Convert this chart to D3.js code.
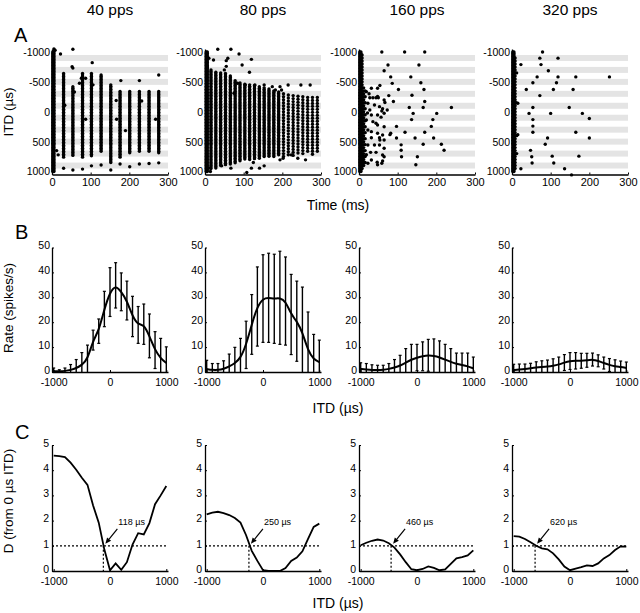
<!DOCTYPE html>
<html><head><meta charset="utf-8">
<script src="https://cdn.jsdelivr.net/npm/d3@7"></script>
<style>body{margin:0;background:#fff} text{font-family:"Liberation Sans",Arial,Helvetica,sans-serif;fill:#000}</style>
</head><body><svg id="c" width="640" height="613"></svg>
<script>
// ---------------- data ----------------
const pulseRates = ["40 pps", "80 pps", "160 pps", "320 pps"];
const panelLetters = ["A", "B", "C"];
const itdGrid = [-1000,-900,-800,-700,-600,-500,-400,-300,-200,-100,0,100,200,300,400,500,600,700,800,900,1000];
const rasterTicksX = [0, 100, 200, 300];
const rasterTicksY = [-1000, -500, 0, 500, 1000];
const rateTicks = [0, 10, 20, 30, 40, 50];
const dTicks = [0, 1, 2, 3, 4, 5];
const itdTicks = [-1000, 0, 1000];
const shadedITDs = [-900, -700, -500, -300, -100, 100, 300, 500, 700, 900];

// Raster: dense runs of spikes [time ms, ITD from, ITD to, ITD spacing between trials]
const runs40 = [[2,-1000,1000,25],[5,-1000,1000,25],[30,-640,780,25],[54,-420,750,25],[79,-640,780,25],
  [102,-640,750,25],[127,-615,665,25],[152,-450,850,25],[176,-340,760,25],[201,-340,690,25],
  [226,-340,680,25],[251,-340,665,25],[276,-340,690,25]];
const spikes40 = [[22,-967],[54,-1045],[104,-822],[52,-755],[54,-730],[71,-476],[87,-560],[76,-560],[87,125],[16,721],
  [167,125],[190,315],[232,-181],[268,125],[166,-187],[178,-521],[226,-521],[276,-616],[8,-1030],[5,-1050],
  [30,945],[54,975],[79,960],[102,905],[127,890],[152,975],[176,875],[201,920],[226,875],[251,865],[276,855],
  [12,650],[58,-330],[33,-110],[106,-450]];
const runs80 = [[3,-1000,1000,25],[6,-1000,1000,25],[15.5,-700,960,25],[28,-660,940,25],[40.5,-650,920,25],
  [53,-640,900,25],[65.5,-600,880,25],[78,-520,860,25],[90.5,-480,820,25],[103,-460,800,25],[115.5,-450,800,25],
  [128,-440,790,25],[140.5,-420,780,25],[153,-400,770,25],[165.5,-380,760,25],[178,-350,750,25],[190.5,-330,740,25],
  [203,-300,760,50],[215.5,-280,740,50],[228,-270,760,50],[240.5,-260,720,50],[253,-250,740,50],[265.5,-240,700,50],
  [278,-240,720,50],[290.5,-240,700,50]];
const spikes80 = [[33,-1045],[67,-1045],[88,-967],[10,-894],[22,-866],[55,-855],[59,-894],[96,-783],[120,-877],[115,-660],
  [6,-755],[84,-476],[104,-448],[129,-448],[153,-448],[174,-420],[194,-420],[215,-448],[248,-448],[272,-448],
  [75,-309],[182,-365],[198,-365],[108,1017],[120,944],[141,944],[153,905],[125,850],[194,805],[202,777],
  [240,777],[223,721],[260,805],[67,944],[43,905],[10,944],[14,1000],[55,-760],[50,-700]];
const runs160 = [[2,-1000,1000,25],[5,-1000,1000,25],[8,-950,980,50],[12,-400,900,50],[16,-350,880,100]];
const spikes160 = [[59,-1000],[118,-1000],[170,-1000],[75,-783],[155,-783],[65,-686],[82,-583],[134,-583],[86,-475],
  [160,-486],[54,-440],[102,-372],[168,-372],[77,-270],[137,-275],[48,-258],[89,-172],[67,-155],[170,-172],
  [130,-70],[166,-70],[239,-70],[59,-12],[140,28],[201,28],[191,131],[136,131],[97,245],[187,245],[80,383],
  [119,343],[170,343],[97,440],[145,440],[193,440],[54,474],[109,554],[166,543],[213,543],[109,645],[220,645],
  [65,754],[110,754],[151,754],[59,863],[48,886],[147,886],
  [19,-336],[32,-392],[48,-392],[28,-235],[36,-235],[44,-235],[50,-235],[65,-197],[23,-141],[40,-113],[53,-85],
  [28,-29],[61,-50],[73,-29],[32,54],[48,54],[65,26],[57,90],[19,138],[36,166],[44,193],[48,221],[65,250],
  [23,305],[32,333],[48,360],[61,389],[82,360],[32,434],[53,434],[65,473],[23,557],[40,557],[53,557],[65,612],
  [30,679],[44,679],[61,724],[32,807],[47,846],[61,824],[23,863],[19,720],[26,-300],[22,20]];
const runs320 = [[2,-1000,1000,25],[5,-1000,1000,25],[8,-900,980,50]];
const spikes320 = [[79,-1000],[72,-897],[119,-897],[23,-789],[75,-789],[94,-686],[65,-583],[119,-583],[165,-583],
  [252,-583],[54,-486],[115,-486],[37,-372],[107,-372],[158,-372],[72,-270],[15,-143],[54,-70],[148,-70],
  [44,28],[100,28],[182,28],[200,114],[54,131],[54,240],[54,343],[165,343],[15,383],[92,440],[200,440],
  [86,543],[48,646],[104,743],[173,743],[51,754],[52,857],[108,857],[23,954],[136,954],[154,1057],
  [12,-650],[12,400],[12,700],[11,-150]];

// Rate-ITD curves: mean rate (spikes/s) and error-bar half length at each ITD of itdGrid
const rate40 = [0.3,0.3,0.4,0.8,1.5,2.8,5.0,12.8,16.4,25.3,32.1,34.8,32.2,28.7,22.3,18.9,19.2,14.5,8.8,5.4,3.6];
const err40  = [1.3,0.6,1.2,2.2,3.5,5.0,5.8,4.0,4.9,7.1,9.8,9.1,7.6,7.8,8.1,7.4,8.1,8.8,7.4,8.1,6.5];
const rate80 = [1.2,0.8,0.8,1.2,2.2,3.5,5.5,10.9,19.1,26.3,29.5,29.8,29.4,29.8,28.5,23.1,20.4,16.0,8.5,5.0,4.0];
const err80  = [3.5,2.6,2.6,3.3,5.0,6.4,8.0,9.5,12.0,15.9,17.6,17.9,17.9,18.7,17.7,16.1,16.1,18.1,15.6,10.1,8.8];
const rate160 = [1.2,1.0,0.8,0.8,0.9,1.2,1.8,2.5,3.8,5.0,5.8,6.3,6.7,6.5,5.9,5.0,4.0,3.3,2.8,2.3,1.5];
const err160  = [2.5,2.4,2.1,1.9,1.8,2.2,3.2,4.2,5.6,6.1,5.3,5.8,6.4,6.8,6.6,6.1,5.4,4.3,4.8,5.3,4.5];
const rate320 = [0.8,1.0,1.2,1.5,1.8,2.0,2.2,2.5,3.0,3.8,4.4,4.5,4.5,4.7,5.0,4.5,3.6,2.8,2.3,2.0,1.6];
const err320  = [2.3,2.2,2.0,2.0,2.3,2.5,2.6,2.8,3.0,3.2,3.4,3.3,3.0,2.8,2.6,2.4,2.4,2.6,2.6,2.4,2.4];

// Discriminability D (from 0 us ITD) at each ITD of itdGrid
const dist40 = [4.58,4.56,4.52,4.30,4.02,3.70,3.42,2.60,1.92,0.85,0.03,0.30,0.05,0.35,1.05,1.50,1.45,1.90,2.65,3.00,3.37];
const dist80 = [2.25,2.32,2.35,2.30,2.22,2.10,1.92,1.42,0.80,0.40,0.03,0,0,0,0.12,0.40,0.53,0.78,1.27,1.75,1.88];
const dist160 = [1.02,1.12,1.20,1.25,1.21,1.10,0.93,0.66,0.35,0.07,0.03,0.08,0.18,0.12,0.03,0.06,0.28,0.50,0.55,0.62,0.82];
const dist320 = [1.38,1.36,1.27,1.14,1.00,0.90,0.86,0.70,0.46,0.18,0.03,0.09,0.15,0.22,0.20,0.30,0.50,0.63,0.83,0.98,0.97];
const thresholds = [118, 250, 460, 620];
const thresholdLabels = ["118 \u00b5s", "250 \u00b5s", "460 \u00b5s", "620 \u00b5s"];

// ---------------- drawing ----------------
const svg = d3.select("#c");
const panelX = [52, 205, 359, 512];
const panelW = 116;
const runs = [runs40, runs80, runs160, runs320];
const spikes = [spikes40, spikes80, spikes160, spikes320];
const rates = [rate40, rate80, rate160, rate320];
const errs = [err40, err80, err160, err320];
const dists = [dist40, dist80, dist160, dist320];
const fmt = d => String(d);

function styleAxis(g, fs, yShift) {
  g.selectAll("path.domain").attr("stroke", "#000").attr("stroke-width", 1.3);
  g.selectAll(".tick line").attr("stroke", "#000").attr("stroke-width", 1);
  const t = g.selectAll(".tick text").attr("font-size", fs || 10.5).attr("fill", "#000")
    .style("font-family", '"Liberation Sans",Arial,sans-serif');
  if (yShift) t.attr("y", yShift);
}

// titles
pulseRates.forEach((t, i) => {
  svg.append("text").attr("x", panelX[i] + panelW / 2).attr("y", 14.5)
    .attr("text-anchor", "middle").attr("font-size", 15.5).text(t);
});
// panel letters
[[14, 42], [15, 239], [15, 439]].forEach((p, i) => {
  svg.append("text").attr("x", p[0]).attr("y", p[1]).attr("font-size", 20).text(panelLetters[i]);
});

// ---- Row A ----
pulseRates.forEach((_, i) => {
  const x0 = panelX[i];
  const x = d3.scaleLinear().domain([0, 300]).range([x0, x0 + panelW]);
  const y = d3.scaleLinear().domain([-1050, 1050]).range([49, 174.5]);
  const g = svg.append("g");
  g.selectAll("rect.band").data(shadedITDs).join("rect")
    .attr("x", x(0)).attr("width", x(300) - x(0))
    .attr("y", d => y(d - 50)).attr("height", d => y(d + 50) - y(d - 50))
    .attr("fill", "#e4e4e4");
  const pts = [];
  runs[i].forEach(r => { for (let v = r[1]; v <= r[2]; v += r[3]) pts.push([r[0], v]); });
  spikes[i].forEach(s => pts.push(s));
  g.selectAll("circle").data(pts).join("circle")
    .attr("cx", d => x(d[0])).attr("cy", d => y(d[1])).attr("r", 1.7).attr("fill", "#000");
  const ax = g.append("g").attr("transform", `translate(0,${y(1050)})`)
    .call(d3.axisBottom(x).tickValues(rasterTicksX).tickFormat(fmt).tickSizeInner(-2).tickSizeOuter(0).tickPadding(4));
  styleAxis(ax, 11);
  const ay = g.append("g").attr("transform", `translate(${x0},0)`)
    .call(d3.axisLeft(y).tickValues(rasterTicksY).tickFormat(fmt).tickSizeInner(-2).tickSizeOuter(0).tickPadding(2));
  styleAxis(ay, 10.5);
});

// ---- Row B ----
pulseRates.forEach((_, i) => {
  const x0 = panelX[i];
  const x = d3.scaleLinear().domain([-1030, 1030]).range([x0, x0 + panelW]);
  const y = d3.scaleLinear().domain([0, 50]).range([372, 247.5]);
  const g = svg.append("g");
  const m = rates[i], e = errs[i];
  const bars = itdGrid.map((d, k) => ({ x: d, lo: Math.max(0, m[k] - e[k]), hi: m[k] + e[k] }));
  g.selectAll("line.eb").data(bars).join("line")
    .attr("x1", d => x(d.x)).attr("x2", d => x(d.x)).attr("y1", d => y(d.lo)).attr("y2", d => y(d.hi))
    .attr("stroke", "#000").attr("stroke-width", 1.4);
  g.selectAll("line.capt").data(bars).join("line")
    .attr("x1", d => x(d.x) - 1.5).attr("x2", d => x(d.x) + 1.5).attr("y1", d => y(d.hi)).attr("y2", d => y(d.hi))
    .attr("stroke", "#000").attr("stroke-width", 1.2);
  g.selectAll("line.capb").data(bars.filter(b => b.lo > 0)).join("line")
    .attr("x1", d => x(d.x) - 1.5).attr("x2", d => x(d.x) + 1.5).attr("y1", d => y(d.lo)).attr("y2", d => y(d.lo))
    .attr("stroke", "#000").attr("stroke-width", 1.2);
  g.append("path").datum(itdGrid.map((d, k) => [d, m[k]]))
    .attr("d", d3.line().x(d => x(d[0])).y(d => y(d[1])).curve(d3.curveBasis))
    .attr("fill", "none").attr("stroke", "#000").attr("stroke-width", 2);
  const ax = g.append("g").attr("transform", `translate(0,${y(0)})`)
    .call(d3.axisBottom(x).tickValues(itdTicks).tickFormat(fmt).tickSizeInner(-2).tickSizeOuter(0).tickPadding(6.5));
  styleAxis(ax, 10.5);
  const ay = g.append("g").attr("transform", `translate(${x0},0)`)
    .call(d3.axisLeft(y).tickValues(rateTicks).tickFormat(fmt).tickSizeInner(-2).tickSizeOuter(0).tickPadding(2));
  styleAxis(ay, 10.5, -2);
});

// ---- Row C ----
pulseRates.forEach((_, i) => {
  const x0 = panelX[i];
  const x = d3.scaleLinear().domain([-1030, 1030]).range([x0, x0 + panelW]);
  const y = d3.scaleLinear().domain([0, 5]).range([571, 445]);
  const g = svg.append("g");
  g.append("line").attr("x1", x(-1030)).attr("x2", x(1030)).attr("y1", y(1)).attr("y2", y(1))
    .attr("stroke", "#000").attr("stroke-width", 1.2).attr("stroke-dasharray", "2,2");
  const cx = x(-thresholds[i]), cy = y(1);
  g.append("line").attr("x1", cx).attr("x2", cx).attr("y1", cy).attr("y2", y(0))
    .attr("stroke", "#000").attr("stroke-width", 1.2).attr("stroke-dasharray", "2,2");
  g.append("path").datum(itdGrid.map((d, k) => [d, dists[i][k]]))
    .attr("d", d3.line().x(d => x(d[0])).y(d => y(d[1])))
    .attr("fill", "none").attr("stroke", "#000").attr("stroke-width", 1.8);
  // arrow annotation
  const tx = cx + 14, ty = cy - 17, hx = cx + 2, hy = cy - 2;
  const ang = Math.atan2(hy - ty, hx - tx);
  const L = 6, W = 2.6;
  const bx = hx - L * Math.cos(ang), by = hy - L * Math.sin(ang);
  g.append("line").attr("x1", tx).attr("y1", ty).attr("x2", bx).attr("y2", by)
    .attr("stroke", "#000").attr("stroke-width", 1.2);
  g.append("polygon").attr("points", [
    [hx, hy],
    [bx + W * Math.sin(ang), by - W * Math.cos(ang)],
    [bx - W * Math.sin(ang), by + W * Math.cos(ang)]].map(p => p.join(",")).join(" "))
    .attr("fill", "#000");
  g.append("text").attr("x", cx + 15).attr("y", cy - 21).attr("font-size", 9).text(thresholdLabels[i]);
  const ax = g.append("g").attr("transform", `translate(0,${y(0)})`)
    .call(d3.axisBottom(x).tickValues(itdTicks).tickFormat(fmt).tickSizeInner(-2).tickSizeOuter(0).tickPadding(6.5));
  styleAxis(ax, 10.5);
  const ay = g.append("g").attr("transform", `translate(${x0},0)`)
    .call(d3.axisLeft(y).tickValues(dTicks).tickFormat(fmt).tickSizeInner(-2).tickSizeOuter(0).tickPadding(3));
  styleAxis(ay, 10.5, -2);
});

// axis titles
svg.append("text").attr("x", 338).attr("y", 210).attr("text-anchor", "middle").attr("font-size", 14).text("Time (ms)");
svg.append("text").attr("x", 338).attr("y", 413).attr("text-anchor", "middle").attr("font-size", 14).text("ITD (\u00b5s)");
svg.append("text").attr("x", 338).attr("y", 608).attr("text-anchor", "middle").attr("font-size", 14).text("ITD (\u00b5s)");
[["ITD (\u00b5s)", 112], ["Rate (spikes/s)", 308], ["D (from 0 \u00b5s ITD)", 501]].forEach(([t, cy]) => {
  svg.append("text").attr("transform", `translate(12.5,${cy}) rotate(-90)`)
    .attr("text-anchor", "middle").attr("font-size", 13.5).text(t);
});
</script></body></html>
